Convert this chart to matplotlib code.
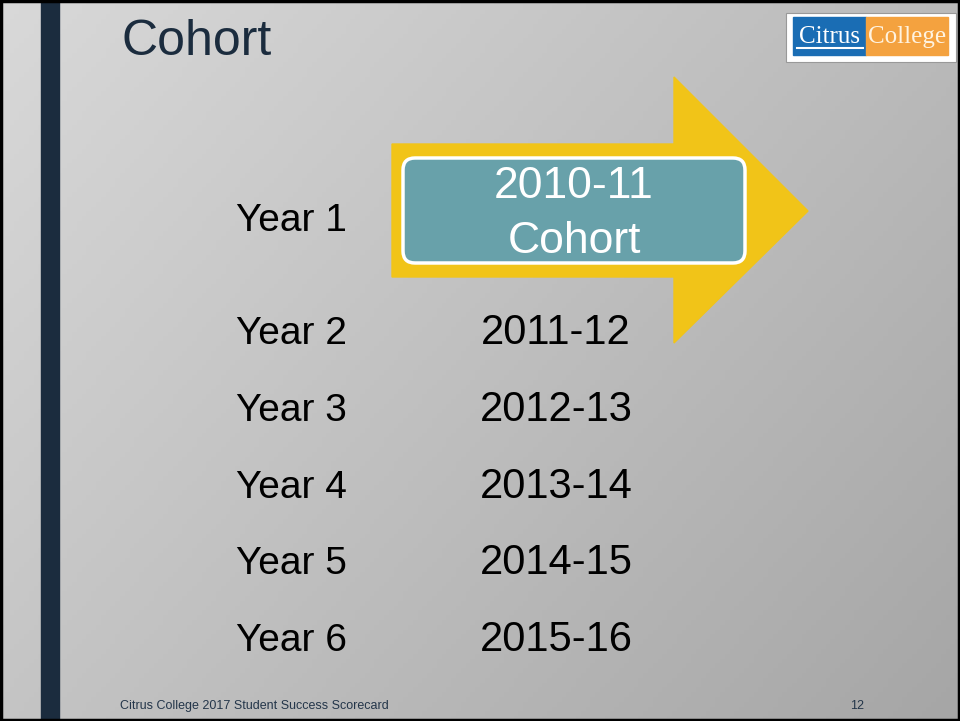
import numpy as np
import matplotlib.pyplot as plt
from matplotlib.patches import Polygon, FancyBboxPatch, Rectangle

# slide content
title = "Cohort"
year_labels = ["Year 1", "Year 2", "Year 3", "Year 4", "Year 5", "Year 6"]
cohort_years = ["2010-11", "2011-12", "2012-13", "2013-14", "2014-15", "2015-16"]
row_base = [231, 344, 421, 498, 574, 651]   # text baselines in px
footer = "Citrus College 2017 Student Success Scorecard"
page_no = "12"

W, H = 960, 721
fig = plt.figure(figsize=(W / 100, H / 100), dpi=100)
ax = fig.add_axes([0, 0, 1, 1])
ax.set_xlim(0, W)
ax.set_ylim(H, 0)
ax.axis("off")

# diagonal grey gradient background
gx, gy = np.meshgrid(np.linspace(0, 1, 200), np.linspace(0, 1, 150))
grad = 0.85 - 0.20 * (0.6 * gx + 0.4 * gy)
ax.imshow(np.dstack([grad, grad, grad]), extent=[0, W, H, 0], aspect="auto", zorder=0)

# slide border + dark left bar
ax.add_patch(Rectangle((1, 1), W - 2, H - 2, fill=False, ec="black", lw=2.5, zorder=5))
ax.add_patch(Rectangle((41, 0), 18, H, color="#1b2c3e", zorder=2))

# title
ax.text(122, 55, title, fontsize=36, color="#1b2c3e", family="Liberation Sans",
        ha="left", va="baseline", zorder=3)

# yellow arrow
arrow = [(392, 144), (674, 144), (674, 77), (808, 211), (674, 343), (674, 277), (392, 277)]
ax.add_patch(Polygon(arrow, closed=True, color="#f1c418", zorder=2))

# teal rounded box
ax.add_patch(FancyBboxPatch((403 + 12, 158 + 12), 342 - 24, 105 - 24,
                            boxstyle="round,pad=12", fc="#68a1aa", ec="white", lw=2.5, zorder=3))
ax.text(574, 198, cohort_years[0], fontsize=32, family="Liberation Sans", color="white",
        ha="center", va="baseline", zorder=4)
ax.text(574, 253, "Cohort", fontsize=32, family="Liberation Sans", color="white",
        ha="center", va="baseline", zorder=4)

for i, yl in enumerate(year_labels):
    ax.text(236, row_base[i], yl, fontsize=28, family="Liberation Sans", color="black",
            ha="left", va="baseline", zorder=4)
    if i > 0:
        ax.text(556, row_base[i], cohort_years[i], fontsize=30, family="Liberation Sans",
                color="black", ha="center", va="baseline", zorder=4)

# footer
ax.text(120, 709, footer, fontsize=9, family="Liberation Sans",
        color="#24364a", ha="left", va="baseline", zorder=4)
ax.text(857, 709, page_no, fontsize=9, family="Liberation Sans",
        color="#24364a", ha="center", va="baseline", zorder=4)

# logo
ax.add_patch(Rectangle((786, 13), 170, 49, fc="white", ec="#999999", lw=0.8, zorder=3))
ax.add_patch(Rectangle((793, 17), 73, 38, color="#1a6db4", zorder=4))
ax.add_patch(Rectangle((866, 17), 82, 38, color="#f4a23f", zorder=4))
ax.text(829, 37, "Citrus", fontsize=18, family="Liberation Serif", color="white",
        ha="center", va="center", zorder=5)
ax.plot([797, 863], [48, 48], color="white", lw=1.5, zorder=5)
ax.text(907, 37, "College", fontsize=18, family="Liberation Serif", color="#fff3e0",
        ha="center", va="center", zorder=5)

fig.savefig("out.png", dpi=100)
